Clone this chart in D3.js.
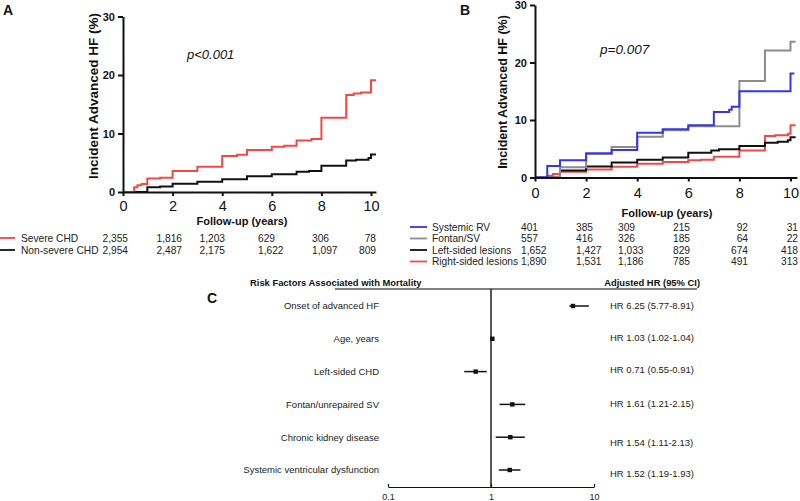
<!DOCTYPE html>
<html>
<head>
<meta charset="utf-8">
<script src="https://cdn.jsdelivr.net/npm/d3@7"></script>
<style>
  html, body { margin: 0; padding: 0; background: #fff; }
  svg { display: block; font-family: "Liberation Sans", Arial, sans-serif; }
</style>
</head>
<body>
<svg id="chart" width="800" height="501"></svg>
<script>
// ---------------- DATA ----------------
// Panel A: cumulative incidence step curves (time in years, value in %)
const severeTimes   = [0, 0.45, 0.58, 0.75, 0.98, 1.5, 2.0, 3.0, 4.0, 4.6, 5.0, 6.0, 6.5, 7.0, 7.6, 8.0, 9.0, 9.3, 9.6, 10.0, 10.2];
const severeValues  = [0, 0.8, 1.15, 1.35, 2.3, 2.45, 3.6, 4.3, 6.15, 6.35, 7.2, 7.75, 7.9, 8.8, 9.05, 12.7, 16.6, 16.85, 17.0, 19.1, 19.1];
const nonSevereTimes  = [0, 0.98, 1.5, 2.0, 3.0, 4.0, 5.0, 6.0, 7.0, 7.5, 8.0, 9.0, 9.4, 9.9, 10.0, 10.2];
const nonSevereValues = [0, 0.8, 0.95, 1.4, 1.75, 2.2, 2.7, 3.05, 3.45, 3.6, 4.5, 5.4, 5.5, 5.8, 6.4, 6.4];

const groupsA = ["Severe CHD", "Non-severe CHD"];
const riskA = [
  ["2,355", "1,816", "1,203", "629", "306", "78"],
  ["2,954", "2,487", "2,175", "1,622", "1,097", "809"]
];

// Panel B
const sysRVTimes   = [0, 0.48, 0.98, 2.0, 3.0, 4.0, 5.0, 6.0, 7.0, 7.6, 7.7, 8.0, 10.0, 10.15];
const sysRVValues  = [0, 2.0, 3.0, 4.2, 4.8, 7.8, 8.4, 9.1, 11.4, 11.8, 12.3, 15.0, 18.1, 18.1];
const fontanTimes  = [0, 0.98, 2.0, 3.0, 4.0, 5.0, 6.0, 8.0, 9.0, 10.0, 10.2];
const fontanValues = [0, 1.8, 4.1, 5.3, 7.1, 8.2, 8.9, 16.8, 22.1, 23.6, 23.6];
const leftTimes    = [0, 0.98, 2.0, 3.0, 4.0, 5.0, 6.0, 6.9, 7.2, 8.0, 9.0, 9.5, 9.9, 10.0, 10.2];
const leftValues   = [0, 1.2, 1.9, 2.6, 3.1, 3.5, 4.3, 4.7, 4.9, 5.5, 6.05, 6.2, 6.5, 7.0, 7.0];
const rightTimes   = [0, 0.5, 0.7, 0.98, 2.0, 3.0, 4.0, 5.0, 6.0, 6.5, 7.0, 8.0, 9.0, 9.4, 9.9, 10.0, 10.2];
const rightValues  = [0, 0.3, 0.6, 1.0, 1.4, 1.85, 2.4, 2.7, 3.0, 3.1, 3.6, 4.7, 7.2, 7.35, 7.6, 9.1, 9.1];

const groupsB = ["Systemic RV", "Fontan/SV", "Left-sided lesions", "Right-sided lesions"];
const riskB = [
  ["401", "385", "309", "215", "92", "31"],
  ["557", "416", "326", "185", "64", "22"],
  ["1,652", "1,427", "1,033", "829", "674", "418"],
  ["1,890", "1,531", "1,186", "785", "491", "313"]
];

const xTicks = [0, 2, 4, 6, 8, 10];
const yTicks = [0, 10, 20, 30];

// Panel C: forest plot
const factors = ["Onset of advanced HF", "Age, years", "Left-sided CHD", "Fontan/unrepaired SV", "Chronic kidney disease", "Systemic ventricular dysfunction"];
const hr   = [6.25, 1.03, 0.71, 1.61, 1.54, 1.52];
const hrLo = [5.77, 1.02, 0.55, 1.21, 1.11, 1.19];
const hrHi = [8.91, 1.04, 0.91, 2.15, 2.13, 1.93];
const hrLabels = ["HR 6.25 (5.77-8.91)", "HR 1.03 (1.02-1.04)", "HR 0.71 (0.55-0.91)", "HR 1.61 (1.21-2.15)", "HR 1.54 (1.11-2.13)", "HR 1.52 (1.19-1.93)"];
const forestTicks = [0.1, 1, 10];

// ---------------- LAYOUT / STYLE ----------------
const RED = "#f44848", BLUE = "#3535ee", GRAY = "#8c8c8c", BLACK = "#111";
const svg = d3.select("#chart");
const FONT = "'Liberation Sans', Arial, sans-serif";

function toPts(ts, vs) { return ts.map((t, i) => [t, vs[i]]); }

function kmPanel(cfg) {
  const g = svg.append("g");
  const x = d3.scaleLinear().domain([0, cfg.xMax]).range([cfg.x0, cfg.x0 + cfg.xMax * cfg.pxPerYear]);
  const y = d3.scaleLinear().domain([0, 30]).range([cfg.y0, cfg.y30]);

  const line = d3.line().x(d => x(d[0])).y(d => y(d[1])).curve(d3.curveStepAfter);
  cfg.series.forEach(s => {
    g.append("path").datum(toPts(s.t, s.v))
      .attr("fill", "none").attr("stroke", s.color).attr("stroke-width", 2)
      .attr("d", line);
  });

  const xa = g.append("g").attr("transform", `translate(0,${cfg.y0})`)
    .call(d3.axisBottom(x).tickValues(xTicks).tickSize(4).tickSizeOuter(0).tickPadding(cfg.xPad));
  xa.select(".domain").attr("stroke", BLACK).attr("stroke-width", 2);
  xa.selectAll(".tick line").attr("stroke", BLACK).attr("stroke-width", 2);
  xa.selectAll(".tick text").attr("font-size", 14.5).attr("font-family", FONT).attr("fill", BLACK);

  const ya = g.append("g").attr("transform", `translate(${cfg.x0},0)`)
    .call(d3.axisLeft(y).tickValues(yTicks).tickSize(5).tickSizeOuter(0).tickPadding(3));
  ya.select(".domain").attr("stroke", BLACK).attr("stroke-width", 2);
  ya.selectAll(".tick line").attr("stroke", BLACK).attr("stroke-width", 2);
  ya.selectAll(".tick text").attr("font-size", 11).attr("font-weight", "bold").attr("font-family", FONT).attr("fill", BLACK);

  g.append("text").attr("transform", `translate(${cfg.yTitleX},${cfg.yTitleY}) rotate(-90)`)
    .attr("text-anchor", "middle").attr("font-weight", "bold").attr("font-size", cfg.yTitleSize)
    .attr("fill", BLACK).text("Incident Advanced HF (%)");
  g.append("text").attr("x", cfg.xTitleX).attr("y", cfg.xTitleY)
    .attr("text-anchor", "middle").attr("font-weight", "bold").attr("font-size", 11)
    .attr("fill", BLACK).text("Follow-up (years)");
  g.append("text").attr("x", cfg.pX).attr("y", cfg.pY).attr("font-style", "italic")
    .attr("font-size", cfg.pSize).attr("fill", BLACK).text(cfg.pText);
  g.append("text").attr("x", cfg.letterX).attr("y", cfg.letterY).attr("font-weight", "bold")
    .attr("font-size", 14).attr("fill", BLACK).text(cfg.letter);

  // risk table
  cfg.groups.forEach((name, i) => {
    const yy = cfg.rowY[i];
    g.append("line").attr("x1", cfg.legX1).attr("x2", cfg.legX2).attr("y1", yy).attr("y2", yy)
      .attr("stroke", cfg.legColors[i]).attr("stroke-width", 1.8);
    g.append("text").attr("x", cfg.legTextX).attr("y", yy + 3.6).attr("font-size", 10.2)
      .attr("fill", "#222").text(name);
    cfg.risk[i].forEach((n, j) => {
      g.append("text").attr("x", cfg.colX[j]).attr("y", yy + 3.6).attr("font-size", 10.2)
        .attr("text-anchor", cfg.colAnchor[j]).attr("fill", "#222").text(n);
    });
  });
}

kmPanel({
  x0: 123, pxPerYear: 24.8, xMax: 10.2, y0: 192, y30: 16.5, xPad: 5,
  series: [
    { t: nonSevereTimes, v: nonSevereValues, color: BLACK },
    { t: severeTimes, v: severeValues, color: RED }
  ],
  yTitleX: 98, yTitleY: 96, yTitleSize: 13.5,
  xTitleX: 242, xTitleY: 225,
  pX: 187, pY: 59, pSize: 13, pText: "p<0.001",
  letter: "A", letterX: 3, letterY: 15,
  groups: groupsA, risk: riskA, legColors: [RED, BLACK],
  rowY: [238, 250], legX1: 0, legX2: 15, legTextX: 21,
  colX: [128, 182, 225, 258, 312, 376], colAnchor: ["end", "end", "end", "start", "start", "end"]
});

kmPanel({
  x0: 535, pxPerYear: 25.55, xMax: 10.25, y0: 177.5, y30: 5, xPad: 6,
  series: [
    { t: rightTimes, v: rightValues, color: RED },
    { t: leftTimes, v: leftValues, color: BLACK },
    { t: fontanTimes, v: fontanValues, color: GRAY },
    { t: sysRVTimes, v: sysRVValues, color: BLUE }
  ],
  yTitleX: 507, yTitleY: 92, yTitleSize: 12.5,
  xTitleX: 667, xTitleY: 217,
  pX: 600, pY: 54, pSize: 13.5, pText: "p=0.007",
  letter: "B", letterX: 460, letterY: 15,
  groups: groupsB, risk: riskB, legColors: [BLUE, GRAY, BLACK, RED],
  rowY: [227, 238.5, 250, 261.5], legX1: 410, legX2: 427, legTextX: 432,
  colX: [521, 576, 618, 673, 748, 798], colAnchor: ["start", "start", "start", "start", "end", "end"]
});

// ---------------- Panel C ----------------
const gc = svg.append("g");
const fx = d3.scaleLog().domain([0.1, 10]).range([388, 594]);
const rowY0 = 306, rowStep = 32.8;
const fy = i => rowY0 + i * rowStep;
const hrLabelDy = [0, -1, -2, -1, 5, 4];
const axisY = 487, topY = 289;

gc.append("text").attr("x", 207).attr("y", 303).attr("font-weight", "bold").attr("font-size", 14)
  .attr("fill", BLACK).text("C");
gc.append("text").attr("x", 250).attr("y", 285.5).attr("font-weight", "bold").attr("font-size", 9.4)
  .attr("fill", BLACK).text("Risk Factors Associated with Mortality");
gc.append("text").attr("x", 700).attr("y", 285.5).attr("text-anchor", "end").attr("font-weight", "bold")
  .attr("font-size", 9.4).attr("fill", BLACK).text("Adjusted HR (95% CI)");
gc.append("line").attr("x1", 335).attr("x2", 697).attr("y1", topY).attr("y2", topY)
  .attr("stroke", "#555").attr("stroke-width", 1.5);

// reference line at HR = 1
gc.append("line").attr("x1", fx(1)).attr("x2", fx(1)).attr("y1", topY).attr("y2", axisY)
  .attr("stroke", BLACK).attr("stroke-width", 1.4);

// bottom axis
const fa = gc.append("g").attr("transform", `translate(0,${axisY})`)
  .call(d3.axisTop(fx).tickValues(forestTicks).tickSize(3).tickSizeOuter(0).tickFormat(d => String(d)));
fa.select(".domain").attr("stroke", BLACK).attr("stroke-width", 1.2);
fa.selectAll(".tick line").attr("stroke", BLACK).attr("stroke-width", 1.2);
fa.selectAll(".tick text").attr("y", 13).attr("dy", 0).attr("font-size", 9).attr("font-family", FONT).attr("fill", "#222");

factors.forEach((name, i) => {
  const yy = fy(i);
  gc.append("text").attr("x", 379).attr("y", yy + 3.3).attr("text-anchor", "end")
    .attr("font-size", 9.5).attr("fill", "#222").text(name);
  gc.append("line").attr("x1", fx(hrLo[i])).attr("x2", fx(hrHi[i])).attr("y1", yy).attr("y2", yy)
    .attr("stroke", BLACK).attr("stroke-width", 1.5);
  gc.append("rect").attr("x", fx(hr[i]) - 2.2).attr("y", yy - 2.2).attr("width", 4.4).attr("height", 4.4)
    .attr("fill", BLACK);
  gc.append("text").attr("x", 610).attr("y", yy + hrLabelDy[i] + 3.3)
    .attr("font-size", 9.5).attr("fill", "#222").text(hrLabels[i]);
});
</script>
</body>
</html>
